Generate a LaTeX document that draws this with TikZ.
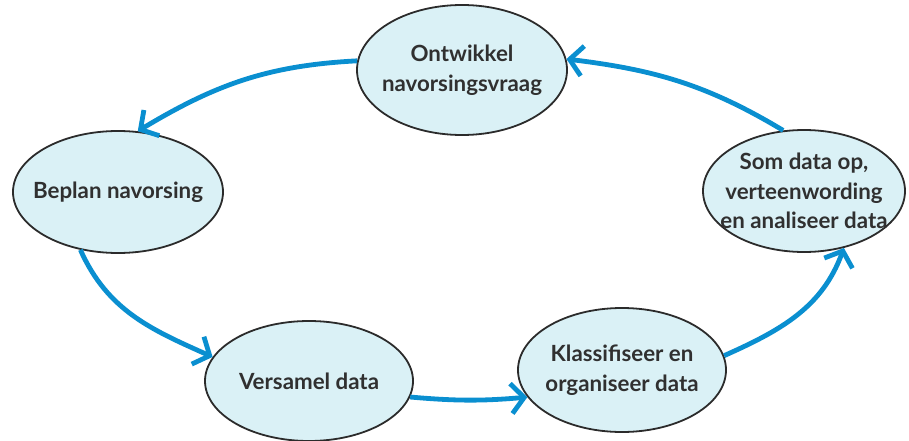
\documentclass[tikz,border=0pt]{standalone}
\usepackage{fontspec}
\setmainfont{Lato}
\usetikzlibrary{shapes.geometric,arrows.meta}
\definecolor{ellfill}{HTML}{DAF1F6}
\definecolor{ellline}{HTML}{2B2B2B}
\definecolor{arrblue}{HTML}{0A8FD0}
\definecolor{txt}{HTML}{303030}
\tikzset{
  stage/.style={ellipse, draw=ellline, fill=ellfill, line width=1.8pt, inner sep=0pt},
  stagetext/.style={inner sep=0pt, font=\fontsize{22.3}{29.5}\selectfont\bfseries, text=txt, align=center},
  flow/.style={draw=arrblue, line width=4.8pt,
    -{Straight Barb[length=13pt,width=30pt,line width=4.8pt]}}
}
\begin{document}
\begin{tikzpicture}[x=1pt,y=1pt]
\useasboundingbox (0,0) rectangle (909,-441);
\node[stage, minimum width=210pt, minimum height=130pt] (ont) at (462,-70) {};
\node[stagetext] (ontt) at (ont.center) {Ontwikkel\\navorsingsvraag};
\node[stage, minimum width=210pt, minimum height=122pt] (bep) at (118,-192) {};
\node[stagetext] (bept) at (bep.center) {Beplan navorsing};
\node[stage, minimum width=208pt, minimum height=120pt] (ver) at (309,-381) {};
\node[stagetext] (vert) at (ver.center) {Versamel data};
\node[stage, minimum width=208pt, minimum height=124pt] (kla) at (622,-370) {};
\node[stagetext] (klat) at (kla.center) {Klassifiseer en\\organiseer data};
\node[stage, minimum width=202pt, minimum height=122pt] (som) at (804,-191) {};
\node[stagetext] (somt) at (som.center) {Som data op,\\verteenwording\\en analiseer data};
\draw[flow] (ont.175) to[out=183,in=31] (bep.72);
\draw[flow] (bep.-123) to[out=-66,in=156] (ver.166);
\draw[flow] (ver.-9) to[out=-5,in=185] (kla.-164);
\draw[flow] (kla.8) to[out=24,in=250] (som.-55);
\draw[flow] (som.109) to[out=149,in=-7] (ont.6);
\end{tikzpicture}
\end{document}
